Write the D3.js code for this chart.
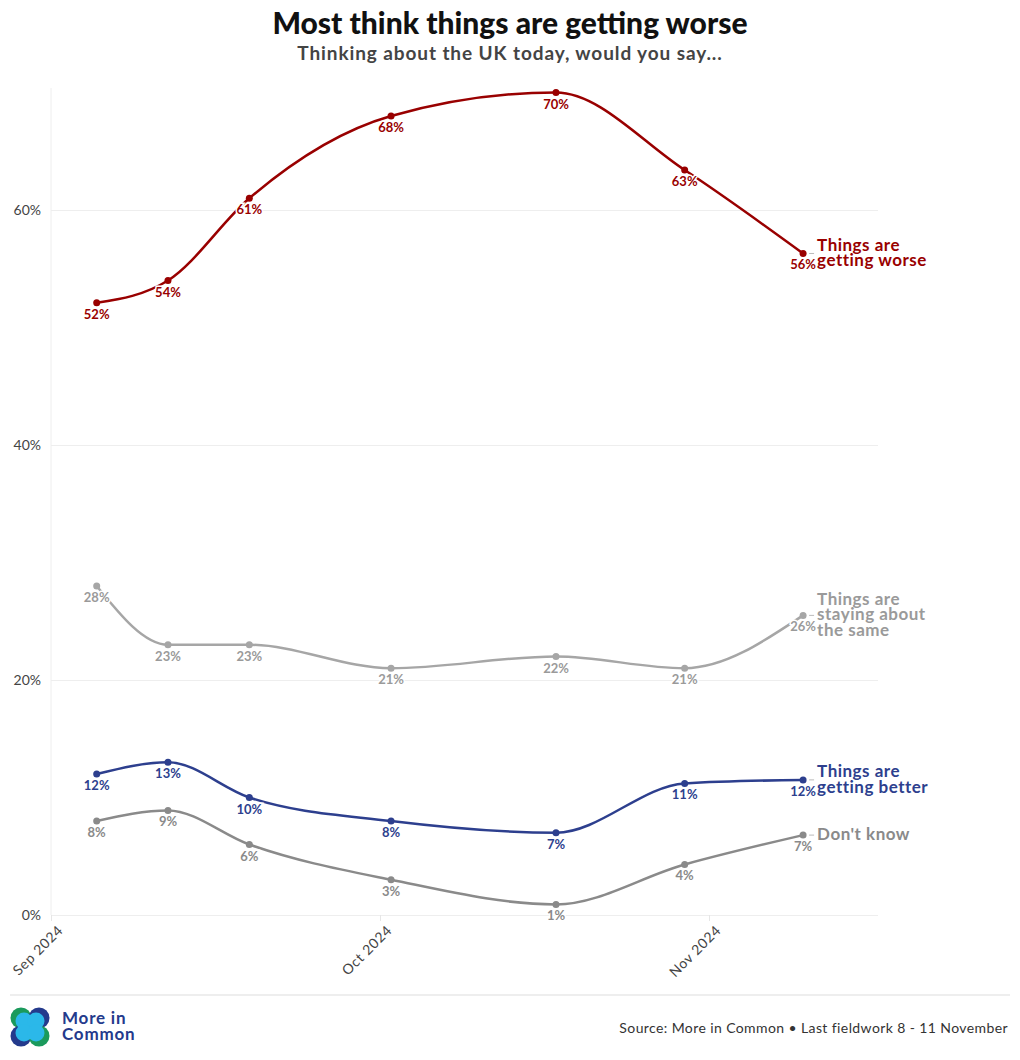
<!DOCTYPE html>
<html>
<head>
<meta charset="utf-8">
<script src="https://cdn.jsdelivr.net/npm/d3@7"></script>
<style>
  body { margin: 0; background: #fff; }
  svg { display: block; font-family: Lato, "Open Sans", sans-serif; }
</style>
</head>
<body>
<svg id="chart" width="1020" height="1060"></svg>
<script>
// ---- Data ----
const dates = ["2024-09-05T04:00", "2024-09-11T16:00", "2024-09-19T02:00", "2024-10-02T01:00", "2024-10-17T14:00", "2024-10-29T17:00", "2024-11-09T14:00"];
const worse = [52.1, 54.0, 61.0, 68.0, 70.0, 63.4, 56.3];
const same = [28.0, 23.0, 23.0, 21.0, 22.0, 21.0, 25.5];
const better = [12.0, 13.0, 10.0, 8.0, 7.0, 11.2, 11.5];
const dontKnow = [8.0, 8.9, 6.0, 3.0, 0.9, 4.3, 6.8];
const seriesNames = [["Things are", "getting worse"], ["Things are", "staying about", "the same"], ["Things are", "getting better"], ["Don't know"]];
const yTicks = [0, 20, 40, 60];
const xTickDates = ["2024-09-01", "2024-10-01", "2024-11-01"];

const colors = ["#990000", "#a6a6a6", "#2d3f8e", "#8a8a8a"];
const labelColors = ["#990000", "#9a9a9a", "#2d3f8e", "#8a8a8a"];

const parse = d3.isoParse;
const series = [worse, same, better, dontKnow].map((vals, i) => ({
  name: seriesNames[i],
  color: colors[i],
  labelColor: labelColors[i],
  values: vals.map((v, j) => ({ date: parse(dates[j]), value: v }))
}));

const svg = d3.select("#chart");

// ---- Scales ----
const x = d3.scaleTime()
  .domain([parse("2024-09-01"), parse("2024-10-01"), parse("2024-11-01"), parse("2024-11-16T10:00")])
  .range([51, 380, 709, 878]);
const y = d3.scaleLinear().domain([0, 70]).range([915, 92.5]);

// ---- Title ----
svg.append("text").attr("x", 510).attr("y", 34).attr("text-anchor", "middle")
  .attr("font-size", 30).attr("font-weight", 900).attr("fill", "#111")
  .text("Most think things are getting worse");
svg.append("text").attr("x", 510).attr("y", 60).attr("text-anchor", "middle")
  .attr("font-size", 19).attr("font-weight", 700).attr("fill", "#444").attr("letter-spacing", 0.9)
  .text("Thinking about the UK today, would you say...");

// ---- Grid ----
svg.append("line").attr("x1", 51).attr("x2", 51).attr("y1", 88).attr("y2", 915)
  .attr("stroke", "#eeeeee").attr("stroke-width", 1);
const yAxis = d3.axisLeft(y).tickValues(yTicks).tickFormat(d => d + "%").tickSize(-(878 - 51)).tickPadding(10);
const gy = svg.append("g").attr("transform", "translate(51,0)").call(yAxis);
gy.select(".domain").remove();
gy.selectAll(".tick line").attr("stroke", "#eeeeee");
gy.selectAll(".tick text").attr("font-size", 14).attr("fill", "#444").attr("font-family", "Lato, sans-serif");

const xAxis = d3.axisBottom(x).tickValues(xTickDates.map(parse)).tickFormat(d3.timeFormat("%b %Y")).tickSize(6);
const gx = svg.append("g").attr("transform", "translate(0,915)").call(xAxis);
gx.select(".domain").remove();
gx.selectAll(".tick line").attr("stroke", "#e6e6e6");
gx.selectAll(".tick text")
  .attr("font-size", 14).attr("fill", "#444").attr("font-family", "Lato, sans-serif")
  .attr("letter-spacing", 0.6)
  .attr("text-anchor", "end")
  .attr("transform", "rotate(-45)")
  .attr("dx", "-0.2em").attr("dy", "0.8em");

// ---- Lines ----
const line = d3.line().x(d => x(d.date)).y(d => y(d.value)).curve(d3.curveMonotoneX);
const gLines = svg.append("g");
series.forEach(s => {
  gLines.append("path").datum(s.values).attr("d", line)
    .attr("fill", "none").attr("stroke", s.color).attr("stroke-width", 2.5);
});
series.forEach(s => {
  gLines.selectAll(null).data(s.values).enter().append("circle")
    .attr("cx", d => x(d.date)).attr("cy", d => y(d.value)).attr("r", 3.5)
    .attr("fill", s.color);
});

// ---- Value labels ----
series.forEach(s => {
  gLines.selectAll(null).data(s.values).enter().append("text")
    .attr("x", d => x(d.date)).attr("y", d => y(d.value) + 16)
    .attr("text-anchor", "middle").attr("font-size", 13).attr("font-weight", 700)
    .attr("fill", s.labelColor)
    .attr("stroke", "#fff").attr("stroke-width", 3).attr("paint-order", "stroke")
    .text(d => Math.round(d.value) + "%");
});

// ---- End labels ----
series.forEach(s => {
  const last = s.values[s.values.length - 1];
  const px = x(last.date), py = y(last.value);
  svg.append("line").attr("x1", px + 6).attr("x2", px + 11).attr("y1", py).attr("y2", py)
    .attr("stroke", "#bbb").attr("stroke-width", 1);
  const n = s.name.length;
  const t = svg.append("text").attr("x", px + 14).attr("font-size", 17).attr("font-weight", 700)
    .attr("letter-spacing", 0.5).attr("fill", s.labelColor);
  s.name.forEach((ln, i) => {
    t.append("tspan").attr("x", px + 14).attr("y", py + 5 + (i - (n - 1) / 2) * 15.5).text(ln);
  });
});

// ---- Footer ----
svg.append("line").attr("x1", 10).attr("x2", 1010).attr("y1", 995).attr("y2", 995)
  .attr("stroke", "#dddddd").attr("stroke-width", 1);
const logo = svg.append("g");
[[21, 1018, "#1b9a5c"], [39, 1018, "#243a8c"], [21, 1036, "#243a8c"], [39, 1036, "#1b9a5c"]].forEach(c => {
  logo.append("circle").attr("cx", c[0]).attr("cy", c[1]).attr("r", 10.5).attr("fill", c[2]);
});
[[24, 1021], [36, 1021], [24, 1033], [36, 1033]].forEach(c => {
  logo.append("circle").attr("cx", c[0]).attr("cy", c[1]).attr("r", 8.5).attr("fill", "#2bb8e9");
});
svg.append("text").attr("x", 62).attr("y", 1024).attr("font-size", 17).attr("font-weight", 700)
  .attr("letter-spacing", 0.8).attr("fill", "#243a8c").text("More in");
svg.append("text").attr("x", 62).attr("y", 1040).attr("font-size", 17).attr("font-weight", 700)
  .attr("letter-spacing", 0.8).attr("fill", "#243a8c").text("Common");
svg.append("text").attr("x", 1008).attr("y", 1033).attr("text-anchor", "end")
  .attr("font-size", 14).attr("letter-spacing", 0.4).attr("fill", "#333")
  .text("Source: More in Common • Last fieldwork 8 - 11 November");
</script>
</body>
</html>
